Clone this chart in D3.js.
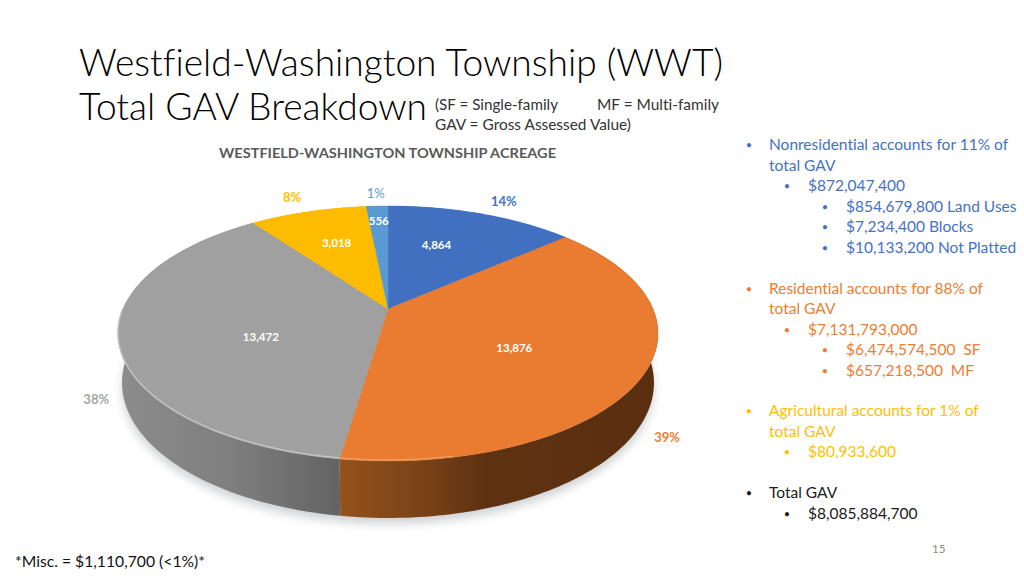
<!DOCTYPE html>
<html>
<head>
<meta charset="utf-8">
<script src="https://cdn.jsdelivr.net/npm/d3@7"></script>
<style>
  html, body { margin: 0; padding: 0; background: #fff; }
  text { font-family: Lato, "Open Sans", sans-serif; font-variant-ligatures: none; }
</style>
</head>
<body>
<div id="chart"></div>
<script>
// chart data, clockwise from 12 o'clock
const categories = ['Nonresidential', 'Residential', 'Agricultural', 'Other', 'Misc']
const acres = [4864, 13876, 13472, 3018, 556]
const percentLabels = ['14%', '39%', '38%', '8%', '1%']
const topColors = ['#4170c0', '#e97c30', '#a0a0a0', '#fdbc00', '#5a9ad3']
const percentColors = ['#4472c4', '#ed7d31', '#a5a5a5', '#ffc000', '#5b9bd5']

// where the labels sit in the plane of the pie: radius and turn (deg) from the slice middle
const valueRadius = [0.61, 0.54, 0.51, 0.64, 0.83]
const valueTurn = [-5, 5, -12, 1, 0]
const percentRadius = [1.18, 1.235, 1.16, 1.18, 1.15]
const percentTurn = [2, 16, -20, -1, 0]

const blue = '#4472c4', orange = '#ed7d31', yellow = '#ffc000', black = '#1a1a1a'

// level 0, 1, 2 bullets
const notes = [
  [145, 0, 'Nonresidential accounts for 11% of', blue, true],
  [166, 0, 'total GAV', blue, false],
  [186, 1, '$872,047,400', blue, true],
  [207, 2, '$854,679,800 Land Uses', blue, true],
  [227, 2, '$7,234,400 Blocks', blue, true],
  [248, 2, '$10,133,200 Not Platted', blue, true],
  [289, 0, 'Residential accounts for 88% of', orange, true],
  [309, 0, 'total GAV', orange, false],
  [330, 1, '$7,131,793,000', orange, true],
  [350, 2, '$6,474,574,500  SF', orange, true],
  [371, 2, '$657,218,500  MF', orange, true],
  [411, 0, 'Agricultural accounts for 1% of', yellow, true],
  [432, 0, 'total GAV', yellow, false],
  [452, 1, '$80,933,600', yellow, true],
  [493, 0, 'Total GAV', black, true],
  [514, 1, '$8,085,884,700', black, true]
]
const noteX = [769, 808, 846]
const bulletX = [749, 787, 825]

const width = 1024
const height = 576

const svg = d3.select('#chart').append('svg')
  .attr('width', width)
  .attr('height', height)
  .style('display', 'block')

const defs = svg.append('defs')
defs.append('filter').attr('id', 'soft')
  .attr('x', '-10%').attr('y', '-10%').attr('width', '120%').attr('height', '125%')
  .append('feGaussianBlur').attr('stdDeviation', 5)
defs.append('filter').attr('id', 'edge')
  .append('feGaussianBlur').attr('stdDeviation', 0.6)

const addGradient = (id, x1, x2, stops) => {
  const g = defs.append('linearGradient').attr('id', id)
    .attr('gradientUnits', 'userSpaceOnUse')
    .attr('x1', x1).attr('x2', x2).attr('y1', 0).attr('y2', 0)
  stops.forEach(s => g.append('stop').attr('offset', s[0]).attr('stop-color', s[1]))
}
addGradient('wall-gray', 118, 340, [[0, '#8c8c8c'], [0.5, '#7f7f7f'], [1, '#636363']])
addGradient('wall-orange', 340, 658, [[0, '#94521d'], [0.25, '#7a4317'], [0.45, '#5e3211'], [1, '#5a2f10']])

// perspective of the pie: flat disc seen from above, centre at (388, 309)
const cx = 388, cy = 309, sx = 265, sy = 122.8, persp = 0.192
const depth = 47.9, lower = 0.985

const project = (angle, r, floor) => {
  const u = r * Math.sin(angle), v = -r * Math.cos(angle)
  const s = 1 / (1 - persp * v)
  if (floor) return [cx + lower * sx * u * s, cy + lower * sy * v * s + depth * s]
  return [cx + sx * u * s, cy + sy * v * s]
}

const line = d3.line()
const arcPoints = (a0, a1, floor) => d3.range(0, 121).map(i => project(a0 + (a1 - a0) * i / 120, 1, floor))

const slices = d3.pie().sort(null).startAngle(0).endAngle(2 * Math.PI)(acres)

// soft shadow under the disc
svg.append('path')
  .attr('d', line(arcPoints(0, 2 * Math.PI, true)) + 'Z')
  .attr('transform', 'translate(0,6)')
  .attr('fill', '#d0d2d4')
  .attr('filter', 'url(#soft)')

// outer walls, the top face hides the back part
svg.append('g').selectAll('path')
  .data(slices)
  .enter().append('path')
  .attr('d', d => line(arcPoints(d.startAngle, d.endAngle, false).concat(arcPoints(d.endAngle, d.startAngle, true))) + 'Z')
  .attr('fill', d => d.index === 1 ? 'url(#wall-orange)' : d.index === 2 ? 'url(#wall-gray)' : topColors[d.index])

// top face
svg.append('g').selectAll('path')
  .data(slices)
  .enter().append('path')
  .attr('d', d => line([[cx, cy]].concat(arcPoints(d.startAngle, d.endAngle, false))) + 'Z')
  .attr('fill', d => topColors[d.index])
  .attr('stroke', d => topColors[d.index])
  .attr('stroke-width', 0.4)

// bevel along the front rim
const gray = slices[2]
svg.append('path')
  .attr('d', line(arcPoints(gray.startAngle, gray.startAngle + 1.42, false).map(p => [p[0], p[1] - 1])))
  .attr('fill', 'none')
  .attr('stroke', '#c2c2c2')
  .attr('stroke-width', 1.4)
  .attr('filter', 'url(#edge)')

svg.append('path')
  .attr('d', line(arcPoints(gray.startAngle - 0.35, gray.startAngle, false).map(p => [p[0], p[1] - 1])))
  .attr('fill', 'none')
  .attr('stroke', '#f29a5c')
  .attr('stroke-width', 1.4)
  .attr('filter', 'url(#edge)')

// labels on and around the pie
const labelAt = (d, r, turn) => project((d.startAngle + d.endAngle) / 2 + turn * Math.PI / 180, r, false)

svg.append('g').selectAll('text')
  .data(slices)
  .enter().append('text')
  .attr('x', d => labelAt(d, valueRadius[d.index], valueTurn[d.index])[0])
  .attr('y', d => labelAt(d, valueRadius[d.index], valueTurn[d.index])[1])
  .attr('dy', '0.35em')
  .attr('text-anchor', 'middle')
  .attr('font-size', 11.5)
  .attr('font-weight', 700)
  .attr('fill', '#fff')
  .text(d => d3.format(',')(d.data))

svg.append('g').selectAll('text')
  .data(slices)
  .enter().append('text')
  .attr('x', d => labelAt(d, percentRadius[d.index], percentTurn[d.index])[0])
  .attr('y', d => labelAt(d, percentRadius[d.index], percentTurn[d.index])[1])
  .attr('dy', '0.35em')
  .attr('text-anchor', 'middle')
  .attr('font-size', 13)
  .attr('font-weight', d => d.index === 4 ? 400 : 700)
  .attr('fill', d => percentColors[d.index])
  .text(d => percentLabels[d.index])

// fixed width text, Lato runs wider than the original face
const addText = (x, y, str, size, fill, w, weight) => {
  const t = svg.append('text')
    .attr('x', x).attr('y', y).attr('dy', '0.35em')
    .attr('font-size', size)
    .attr('font-weight', weight || 400)
    .attr('fill', fill)
    .style('white-space', 'pre')
    .text(str)
  if (w) t.attr('textLength', w).attr('lengthAdjust', 'spacingAndGlyphs')
  return t
}

addText(79, 63, 'Westfield-Washington Township (WWT)', 37, '#000', 644, 300)
addText(79, 107, 'Total GAV Breakdown', 37, '#000', 348, 300)
addText(435, 105, '(SF = Single-family', 15, '#333', 123)
addText(597, 105, 'MF = Multi-family', 15, '#333', 122)
addText(435, 125, 'GAV = Gross Assessed Value)', 15, '#333', 196)
addText(219, 153, 'WESTFIELD-WASHINGTON TOWNSHIP ACREAGE', 14, '#595959', 337, 700)

notes.forEach(n => {
  if (n[4]) addText(bulletX[n[1]], n[0], '•', 11, n[3]).attr('text-anchor', 'middle')
  addText(noteX[n[1]], n[0], n[2], 15.5, n[3])
})

addText(932, 549, '15', 11.5, '#8c8c8c')
addText(15, 562, '*Misc. = $1,110,700 (<1%)*', 15, '#111', 190)
</script>
</body>
</html>
